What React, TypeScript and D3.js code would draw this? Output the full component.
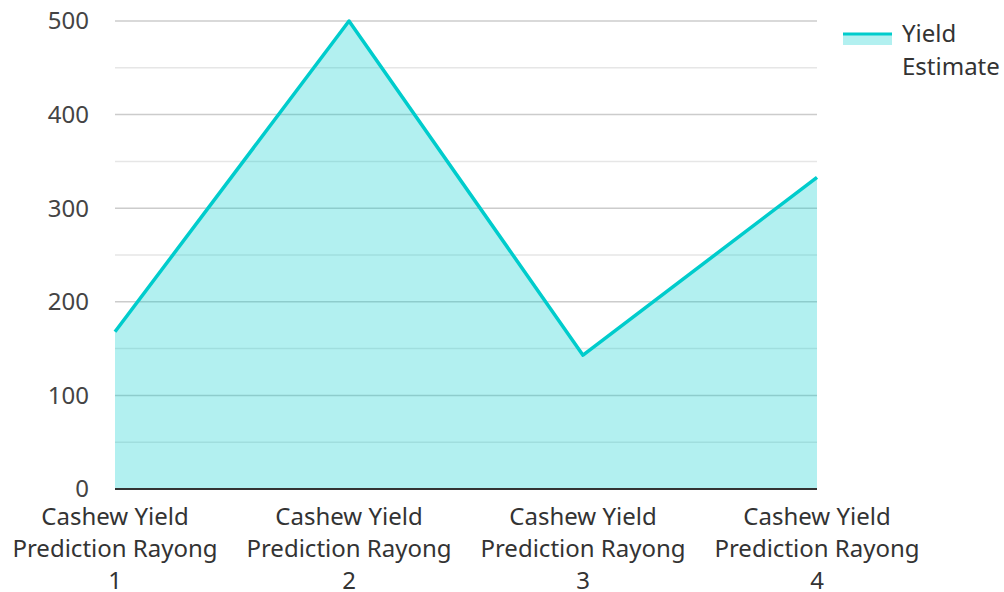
import React from "react";
import * as d3 from "d3";

const categories = [
  ["Cashew Yield", "Prediction Rayong", "1"],
  ["Cashew Yield", "Prediction Rayong", "2"],
  ["Cashew Yield", "Prediction Rayong", "3"],
  ["Cashew Yield", "Prediction Rayong", "4"],
];
const yieldValues = [168, 500, 143, 333];
const majorTicks = [0, 100, 200, 300, 400, 500];
const minorTicks = [50, 150, 250, 350, 450];
const seriesName = ["Yield", "Estimate"];

const W = 1004;
const H = 592;
const left = 115;
const right = 817;
const top = 21;
const bottom = 489;
const font = "'Noto Sans', 'Open Sans', sans-serif";
const fs = 24;

export default function App() {
  const x = d3.scalePoint<number>().domain(d3.range(categories.length)).range([left, right]);
  const y = d3.scaleLinear().domain([0, 500]).range([bottom, top]);
  const line = d3.line<number>().x((_, i) => x(i)!).y((d) => y(d));
  const area = d3.area<number>().x((_, i) => x(i)!).y0(y(0)).y1((d) => y(d));

  return (
    <svg width={W} height={H} style={{ position: "absolute", left: 0, top: 0, background: "#fff" }}>
      {minorTicks.map((t) => (
        <line key={"m" + t} x1={left} x2={right} y1={y(t)} y2={y(t)} stroke="#e6e6e6" strokeWidth={1.5} />
      ))}
      {majorTicks.map((t) => (
        <line key={"M" + t} x1={left} x2={right} y1={y(t)} y2={y(t)} stroke="#cccccc" strokeWidth={1.5} />
      ))}
      <path d={area(yieldValues)!} fill="#00cccc" fillOpacity={0.3} />
      <path d={line(yieldValues)!} fill="none" stroke="#00cccc" strokeWidth={3.5} strokeLinejoin="round" />
      <line x1={left} x2={right} y1={y(0)} y2={y(0)} stroke="#333" strokeWidth={2} />
      {majorTicks.map((t) => (
        <text key={"t" + t} x={89} y={y(t)} dy="0.35em" textAnchor="end" fontFamily={font} fontSize={fs} fill="#444">
          {t}
        </text>
      ))}
      {categories.map((lines, i) => (
        <text key={"c" + i} x={x(i)} textAnchor="middle" fontFamily={font} fontSize={fs} fill="#333">
          {lines.map((l, j) => (
            <tspan key={j} x={x(i)} y={525 + j * 32}>
              {l}
            </tspan>
          ))}
        </text>
      ))}
      <g>
        <rect x={843} y={34} width={49} height={11} fill="#00cccc" fillOpacity={0.3} />
        <line x1={843} x2={892} y1={34} y2={34} stroke="#00cccc" strokeWidth={3} />
        {seriesName.map((s, j) => (
          <text key={s} x={902} y={42 + j * 33} fontFamily={font} fontSize={fs} fill="#333">
            {s}
          </text>
        ))}
      </g>
    </svg>
  );
}
